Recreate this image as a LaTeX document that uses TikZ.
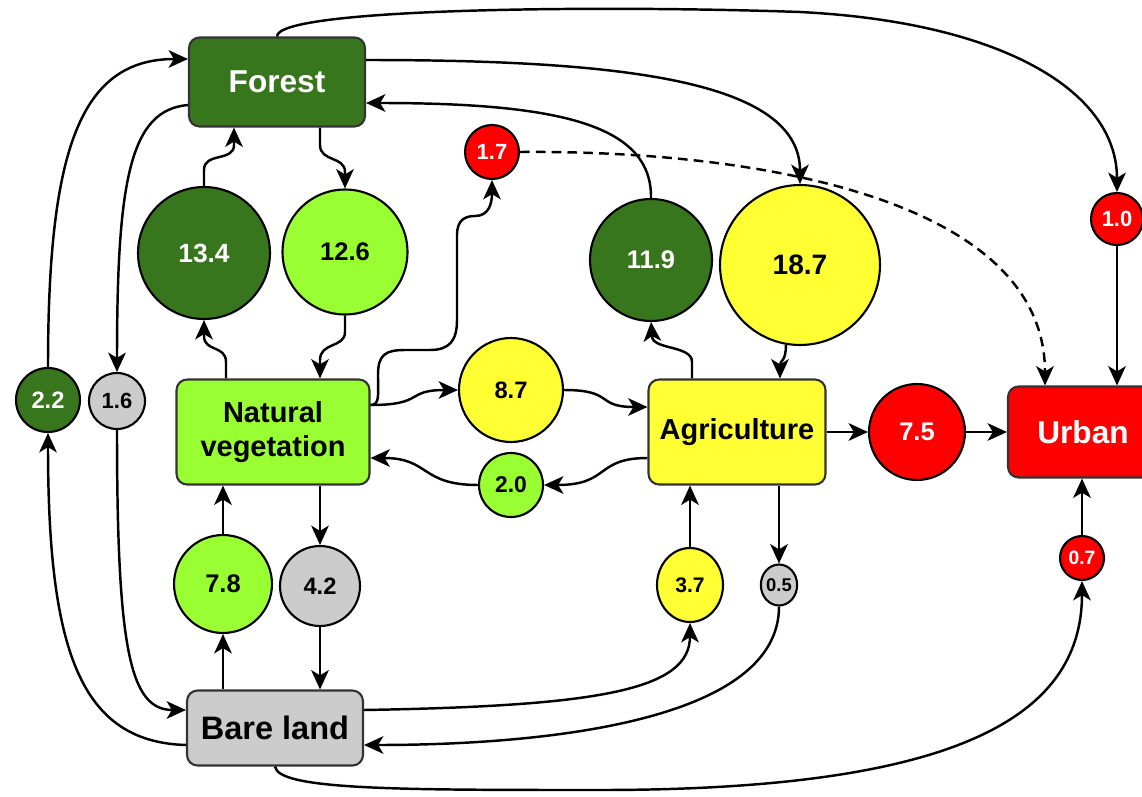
\documentclass[tikz,border=0pt]{standalone}
\usepackage{fontspec}
\setmainfont{Liberation Sans}
\usetikzlibrary{arrows.meta,calc,shapes.geometric}
\definecolor{dkgreen}{HTML}{38761D}
\definecolor{ltgreen}{HTML}{99FF33}
\definecolor{yel}{HTML}{FFFF33}
\definecolor{gry}{HTML}{CCCCCC}
\definecolor{rd}{HTML}{FF0000}
\newcommand{\fs}[1]{\fontsize{#1}{#1}\selectfont\bfseries}
\begin{document}
\begin{tikzpicture}[x=0.02cm,y=-0.02cm,
 box/.style={draw=black!80, line width=1.2pt, rounded corners=6pt, align=center, inner sep=0pt},
 circ/.style={circle, draw=black, line width=1.2pt, inner sep=0pt},
 ell/.style={ellipse, draw=black, line width=1.2pt, inner sep=0pt},
 conn/.style={line width=1.4pt, -{Stealth[length=11pt,width=10pt,inset=3pt]}},
]
\useasboundingbox (0,0) rectangle (1142,797);

% main boxes
\node[box, fill=dkgreen, text=white, minimum width=3.52cm, minimum height=1.78cm] (forest) at (277,82) {\fs{18}Forest};
\node[box, fill=ltgreen, minimum width=3.86cm, minimum height=2.1cm, font=\fontsize{16.5}{19.5}\selectfont\bfseries] (nv) at (273,432) {Natural\\ vegetation};
\node[box, fill=yel, minimum width=3.54cm, minimum height=2.1cm] (agri) at (737,432) {\fs{16.5}Agriculture};
\node[box, fill=rd, text=white, minimum width=3.0cm, minimum height=1.82cm] (urban) at (1083,432) {\fs{18}Urban};
\node[box, fill=gry, minimum width=3.52cm, minimum height=1.5cm] (bare) at (275,728) {\fs{18.5}Bare land};

% flow circles
\node[circ, fill=dkgreen, text=white, minimum size=2.64cm] (c134) at (204,253) {\fs{15}13.4};
\node[circ, fill=ltgreen, minimum size=2.5cm] (c126) at (345,252) {\fs{14.5}12.6};
\node[circ, fill=rd, text=white, minimum size=1.08cm] (c17) at (492,152) {\fs{12.5}1.7};
\node[circ, fill=dkgreen, text=white, minimum size=2.44cm] (c119) at (651,260) {\fs{14.5}11.9};
\node[circ, fill=yel, minimum size=3.2cm] (c187) at (800,265) {\fs{16}18.7};
\node[circ, fill=yel, minimum size=2.08cm] (c87) at (511,390) {\fs{13.5}8.7};
\node[circ, fill=ltgreen, minimum size=1.28cm] (c20) at (511,485) {\fs{13}2.0};
\node[circ, fill=rd, text=white, minimum size=1.92cm] (c75) at (917,432) {\fs{14.5}7.5};
\node[circ, fill=rd, text=white, minimum size=1.04cm] (c10) at (1117,219) {\fs{12.5}1.0};
\node[circ, fill=rd, text=white, minimum size=0.88cm] (c07) at (1082,558) {\fs{11}0.7};
\node[circ, fill=dkgreen, text=white, minimum size=1.28cm] (c22) at (48,400) {\fs{13.5}2.2};
\node[circ, fill=gry, minimum size=1.12cm] (c16) at (117,401) {\fs{12.5}1.6};
\node[circ, fill=ltgreen, minimum size=1.96cm] (c78) at (223,584) {\fs{14.5}7.8};
\node[circ, fill=gry, minimum size=1.6cm] (c42) at (320,586) {\fs{13.5}4.2};
\node[ell, fill=yel, minimum width=1.32cm, minimum height=1.48cm] (c37) at (690,585) {\fs{12}3.7};
\node[ell, fill=gry, minimum width=0.72cm, minimum height=0.82cm] (c05) at (779,585) {\fs{10.5}0.5};

% connectors around Forest
\draw[conn] (forest.north) .. controls (277,8) and (600,5) .. (800,12) .. controls (1000,22) and (1117,90) .. (c10.north);
\draw[conn] ($(forest.east)+(0,-22)$) .. controls (620,60) and (800,80) .. (c187.north);
\draw[conn] (c119.north) .. controls (652,125) and (560,103) .. ($(forest.east)+(0,21)$);
\draw[conn, dashed, dash pattern=on 5.5pt off 3.5pt] (c17.east) .. controls (760,150) and (1045,200) .. ($(urban.north)+(-38,0)$);
\draw[conn] (c10.south) -- ($(urban.north)+(34,0)$);
\draw[conn] (c22.north) .. controls (48,150) and (80,59) .. ($(forest.west)+(0,-23)$);
\draw[conn] ($(forest.west)+(0,23)$) .. controls (130,110) and (117,180) .. (c16.north);
\draw[conn] (c134.north) -- (204,170) .. controls (204,152) and (234,162) .. (234,145) -- ($(forest.south)+(-43,0)$);
\draw[conn] ($(forest.south)+(43,0)$) -- (320,145) .. controls (320,162) and (345,156) .. (345,172) -- (c126.north);

% around Natural vegetation
\draw[conn] ($(nv.north)+(-47,0)$) -- (226,362) .. controls (226,345) and (204,352) .. (204,336) -- (c134.south);
\draw[conn] (c126.south) -- (345,332) .. controls (345,348) and (320,342) .. (320,360) -- ($(nv.north)+(47,0)$);
\draw[conn] ($(nv.east)+(0,-27)$) .. controls (380,405) and (378,395) .. (378,375) .. controls (378,355) and (385,350) .. (405,350) -- (430,350) .. controls (450,350) and (457,340) .. (457,320) -- (457,235) .. controls (457,220) and (465,216) .. (475,216) .. controls (488,216) and (492,205) .. (c17.south);
\draw[conn] ($(nv.east)+(0,-27)$) .. controls (425,405) and (405,390) .. (c87.west);
\draw[conn] (c87.east) .. controls (615,390) and (595,407) .. ($(agri.west)+(0,-25)$);
\draw[conn] ($(agri.west)+(0,26)$) .. controls (595,458) and (610,485) .. (c20.east);
\draw[conn] (c20.west) .. controls (420,485) and (430,458) .. ($(nv.east)+(0,26)$);

% around Agriculture
\draw[conn] ($(agri.north)+(-45,0)$) -- (692,362) .. controls (692,345) and (652,350) .. (652,336) -- (c119.south);
\draw[conn] (c187.-100) .. controls (786,362) and (780,360) .. ($(agri.north)+(43,0)$);
\draw[conn] (agri.east) -- (c75.west);
\draw[conn] (c75.east) -- (urban.west);
\draw[conn] (c07.north) -- (c07.north |- urban.south);
\draw[conn] (c37.north) -- (c37.north |- agri.south);
\draw[conn] ($(agri.south)+(42,0)$) -- (c05.north);

% around Bare land
\draw[conn] (c78.north) -- (c78.north |- nv.south);
\draw[conn] ($(nv.south)+(47,0)$) -- (c42.north);
\draw[conn] (c78.south |- bare.north) -- (c78.south);
\draw[conn] (c42.south) -- (c42.south |- bare.north);
\draw[conn] (c16.south) .. controls (117,650) and (130,710) .. ($(bare.west)+(0,-18)$);
\draw[conn] ($(bare.west)+(0,17)$) .. controls (80,742) and (48,650) .. (c22.south);
\draw[conn] ($(bare.east)+(0,-18)$) .. controls (600,706) and (690,690) .. (c37.south);
\draw[conn] (c05.south) .. controls (779,720) and (550,745) .. ($(bare.east)+(0,17)$);
\draw[conn] (bare.south) .. controls (278,790) and (400,790) .. (600,790) .. controls (950,790) and (1082,720) .. (c07.south);
\end{tikzpicture}
\end{document}
